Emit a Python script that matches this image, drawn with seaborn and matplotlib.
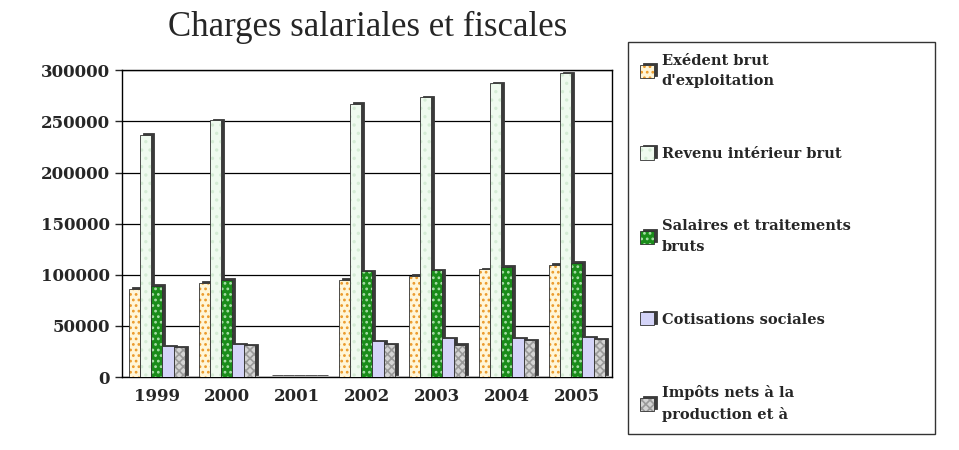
import numpy as np
import pandas as pd
import seaborn as sns
import matplotlib.pyplot as plt
from matplotlib import patheffects as pe
from matplotlib.colors import to_rgba

# données
annees = ['1999', '2000', '2001', '2002', '2003', '2004', '2005']
excedent = [86000, 92000, 0, 95000, 99000, 105500, 110000]
revenu = [236500, 251000, 0, 267000, 273500, 287000, 297000]
salaires = [89000, 95000, 0, 103500, 104500, 107500, 112000]
cotisations = [30000, 32000, 0, 35000, 38000, 38000, 39000]
impots = [29000, 31000, 0, 32000, 31500, 36000, 37000]

series = ["Exédent brut\nd'exploitation", "Revenu intérieur brut",
          "Salaires et traitements\nbruts", "Cotisations sociales",
          "Impôts nets à la\nproduction et à"]
valeurs = [excedent, revenu, salaires, cotisations, impots]

fonds = ['#fff6d8', '#effaef', '#1a8c1a', '#d4d4f8', '#d4d4d4']
hachures = ['...', '..', '...', '', 'xxxx']
couleurs_hachures = ['#eb9a2a', '#d5ecd5', '#a8e0a8', '#d4d4f8', '#9a9a9a']


class Ombre(pe.AbstractPathEffect):
    # ombre pleine (sans hachure) pour imiter l'effet 3D
    def __init__(self, offset=(2.2, 1.2), couleur='#3a3a3a'):
        super().__init__(offset)
        self.couleur = to_rgba(couleur)

    def draw_path(self, renderer, gc, tpath, affine, rgbFace):
        gc0 = renderer.new_gc()
        gc0.copy_properties(gc)
        gc0.set_hatch(None)
        gc0.set_foreground(self.couleur)
        affine0 = affine + self._offset_transform(renderer)
        renderer.draw_path(gc0, tpath, affine0, self.couleur)
        gc0.restore()


df = pd.DataFrame({
    'annee': np.tile(annees, len(series)),
    'serie': np.repeat(series, len(annees)),
    'valeur': np.concatenate(valeurs),
})

sns.set_style('white')
plt.rcParams['hatch.linewidth'] = 1.2

fig = plt.figure(figsize=(9.59, 4.5), dpi=100)
ax = fig.add_axes([0.127, 0.162, 0.511, 0.682])

sns.barplot(data=df, x='annee', y='valeur', hue='serie', hue_order=series,
            palette=fonds, saturation=1, width=0.8, ax=ax, legend=False)

ombre = [Ombre(), pe.Normal()]
for cont, h, hc in zip(ax.containers, hachures, couleurs_hachures):
    for p in cont:
        p.set_hatch(h)
        p.set_edgecolor('#303030')
        p.set_linewidth(0.6)
        p._hatch_color = to_rgba(hc)
        p.set_path_effects(ombre)
        p.set_zorder(3)

ax.set_ylim(0, 300000)
ax.set_xlim(-0.5, 6.5)
ax.set_yticks(range(0, 300001, 50000))
ax.grid(axis='y', color='black', linewidth=0.9)
ax.set_axisbelow(True)
for s in ax.spines.values():
    s.set_color('black')
    s.set_linewidth(1.0)

ax.set_xlabel('')
ax.set_ylabel('')
ax.set_xticks(np.arange(-0.5, 7, 1), minor=True)
ax.tick_params(axis='x', which='major', length=0, pad=8)
ax.tick_params(axis='x', which='minor', length=5, width=1, direction='out')
ax.tick_params(axis='y', length=5, width=1, direction='out', left=True)
for t in ax.get_xticklabels() + ax.get_yticklabels():
    t.set_fontfamily('DejaVu Serif')
    t.set_fontweight('bold')
    t.set_fontsize(12)

fig.text(0.383, 0.94, 'Charges salariales et fiscales', ha='center', va='center',
         fontfamily='Liberation Serif', fontsize=25)

leg = fig.legend(ax.containers, series, loc='upper left',
                 bbox_to_anchor=(0.655, 0.907, 0.32, 0.0), mode='expand',
                 frameon=True, fancybox=False, edgecolor='black',
                 prop={'family': 'DejaVu Serif', 'weight': 'bold', 'size': 10.5},
                 handlelength=1.0, handleheight=1.0, handletextpad=0.5,
                 labelspacing=4.0, borderpad=0.8, borderaxespad=0)
leg.get_frame().set_linewidth(1.0)
for t in leg.get_texts():
    t.set_linespacing(1.6)

fig.savefig('out.png', dpi=100)
